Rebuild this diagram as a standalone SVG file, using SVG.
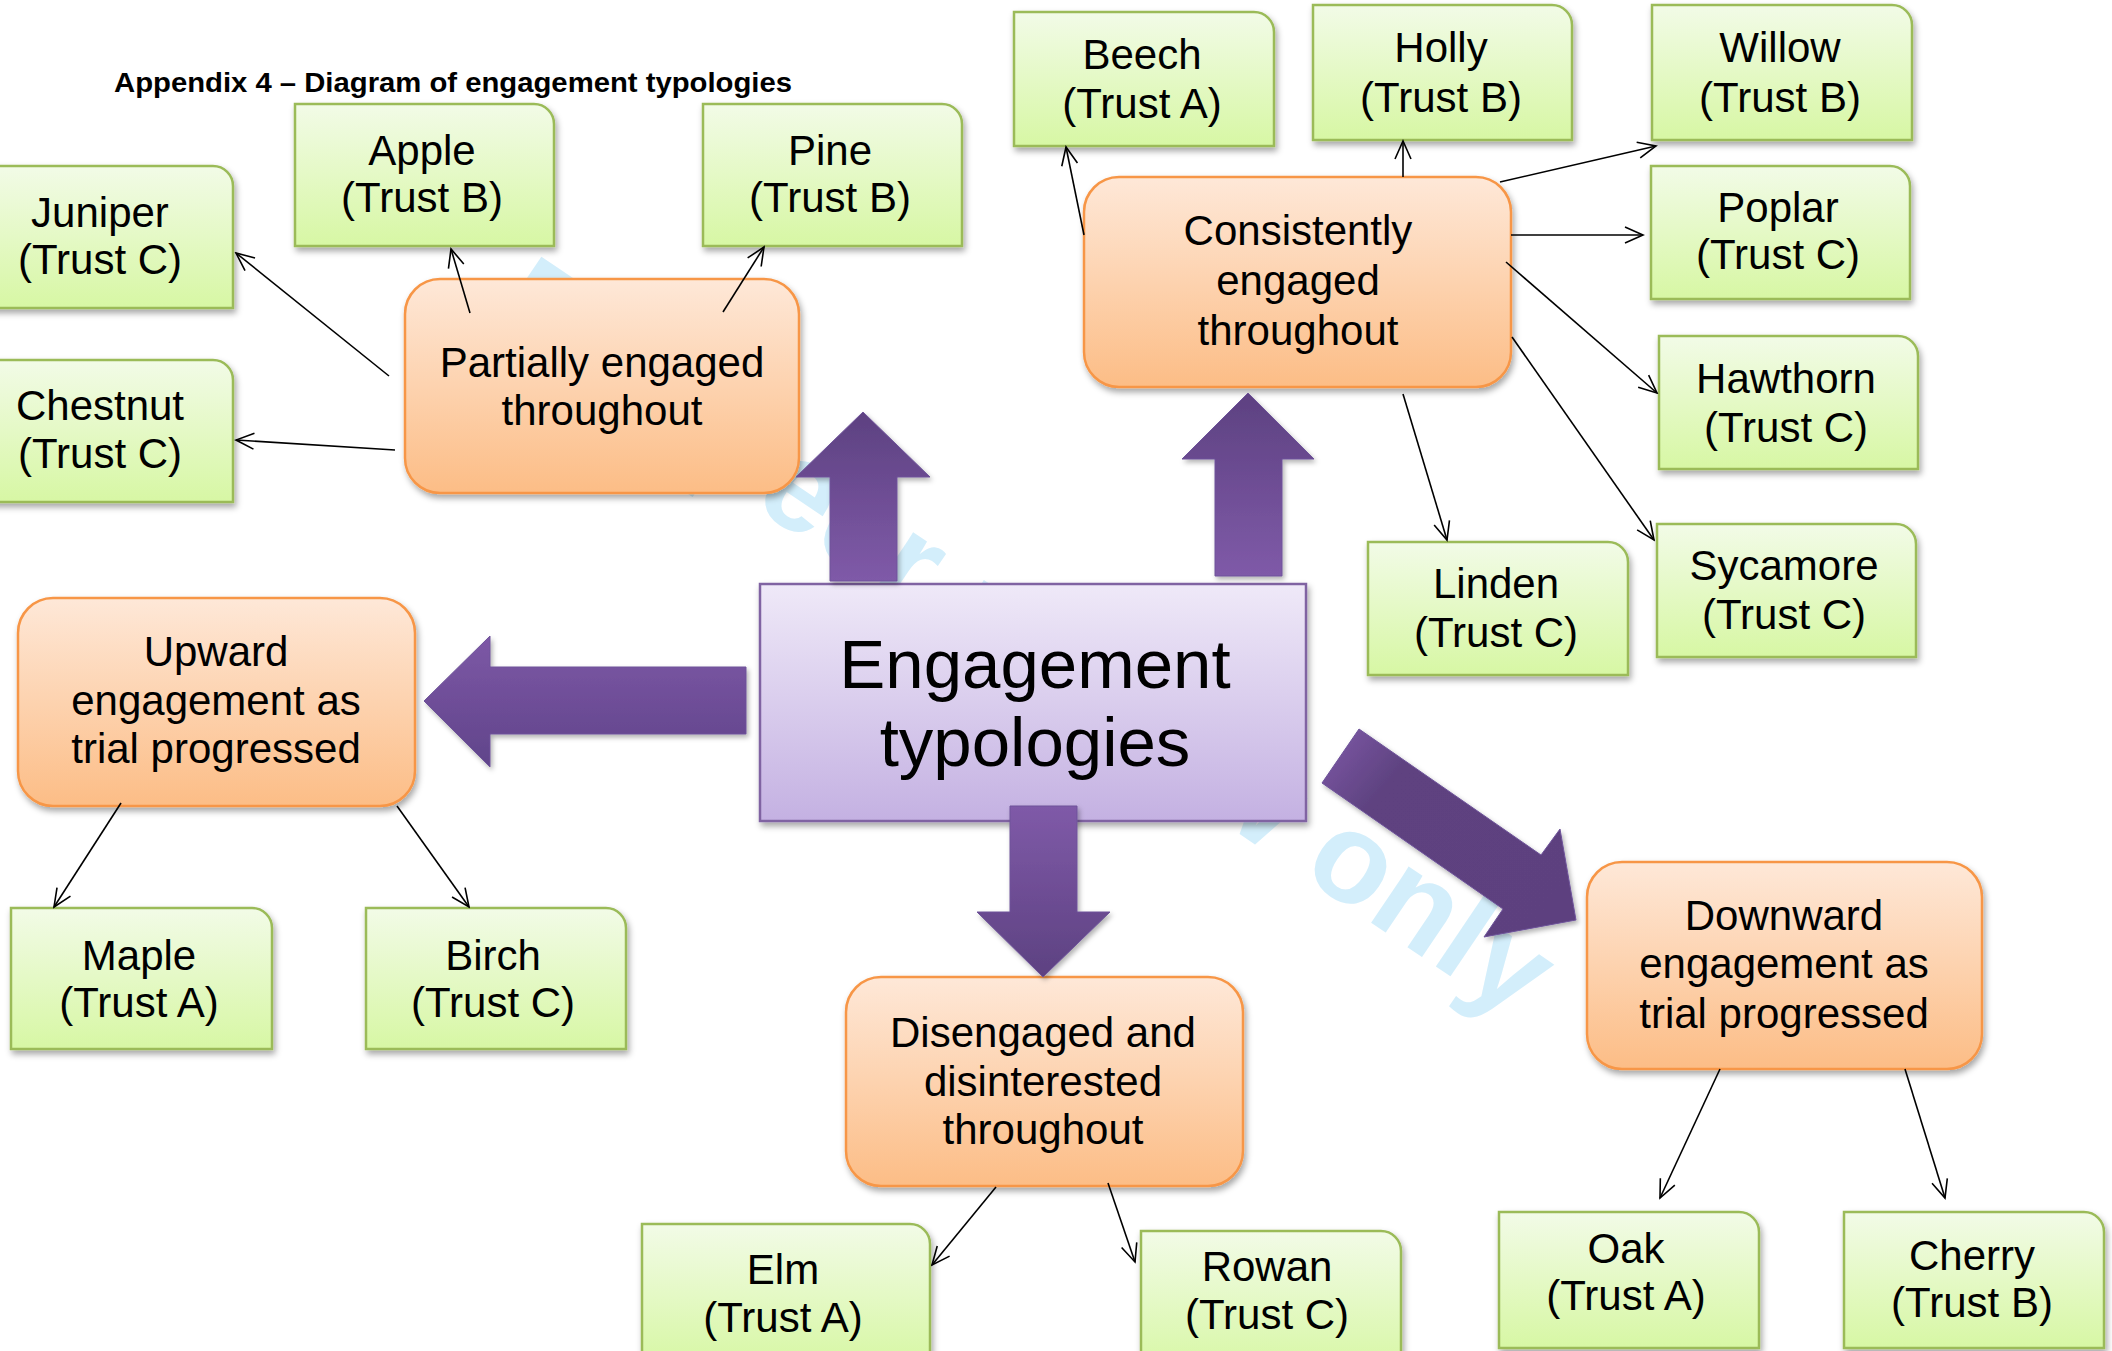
<svg xmlns="http://www.w3.org/2000/svg" width="2112" height="1351" viewBox="0 0 2112 1351">
<style>
.t{font-family:"Liberation Sans",Arial,sans-serif;font-size:42px;text-anchor:middle;fill:#000}
.big{font-size:69px}
.title{font-family:"Liberation Sans",Arial,sans-serif;font-size:27px;font-weight:bold;fill:#000}
.wm{font-family:"Liberation Sans",Arial,sans-serif;font-size:128px;font-weight:bold;fill:#d3eefb}
.green{fill:url(#gGreen);stroke:#9bbb59;stroke-width:2.5;filter:url(#sh)}
.orange{fill:url(#gOrange);stroke:#f79646;stroke-width:2.5;filter:url(#sh)}
.central{fill:url(#gCentral);stroke:#8064a2;stroke-width:2.5;filter:url(#sh)}
.con{fill:none;stroke:#000;stroke-width:1.6;marker-end:url(#arr)}
.blk{stroke:#6e539a;stroke-width:1;filter:url(#sh2)}
</style>
<defs>
<linearGradient id="gGreen" x1="0" y1="0" x2="0" y2="1"><stop offset="0" stop-color="#f2fbe7"/><stop offset="1" stop-color="#d7f7a4"/></linearGradient>
<linearGradient id="gOrange" x1="0" y1="0" x2="0" y2="1"><stop offset="0" stop-color="#fee8d8"/><stop offset="1" stop-color="#fcbd86"/></linearGradient>
<linearGradient id="gCentral" x1="0" y1="0" x2="0" y2="1"><stop offset="0" stop-color="#efe9f8"/><stop offset="1" stop-color="#c4b1e2"/></linearGradient>
<linearGradient id="gUp" x1="0" y1="1" x2="0" y2="0"><stop offset="0" stop-color="#7f5aa8"/><stop offset="1" stop-color="#5d4181"/></linearGradient>
<linearGradient id="gDown" x1="0" y1="0" x2="0" y2="1"><stop offset="0" stop-color="#7f5aa8"/><stop offset="1" stop-color="#5d4181"/></linearGradient>
<linearGradient id="gLeft" x1="0" y1="0" x2="0" y2="1"><stop offset="0" stop-color="#7d58a6"/><stop offset="1" stop-color="#60448a"/></linearGradient>
<linearGradient id="gDiag" x1="0" y1="0" x2="1" y2="0.7"><stop offset="0" stop-color="#7f5aa8"/><stop offset="0.3" stop-color="#5e4280"/><stop offset="1" stop-color="#5d417f"/></linearGradient>
<filter id="sh" x="-10%" y="-10%" width="125%" height="130%"><feDropShadow dx="2" dy="4" stdDeviation="3" flood-color="#000" flood-opacity="0.35"/></filter>
<filter id="sh2" x="-10%" y="-10%" width="125%" height="130%"><feDropShadow dx="2" dy="3" stdDeviation="2.5" flood-color="#000" flood-opacity="0.3"/></filter>
<marker id="arr" viewBox="-20 -10 22 20" refX="0" refY="0" markerWidth="22" markerHeight="20" markerUnits="userSpaceOnUse" orient="auto"><path d="M-18,-8 L0,0 L-18,8" fill="none" stroke="#000" stroke-width="1.6"/></marker>
</defs>
<rect width="2112" height="1351" fill="#fff"/>
<text class="wm" x="485" y="325" transform="rotate(34 485 325)">For peer review only</text>
<text class="title" x="114" y="92" textLength="678" lengthAdjust="spacingAndGlyphs">Appendix 4 – Diagram of engagement typologies</text>

<g id="nodes">
<g id="central"><rect class="central" x="760" y="584" width="546" height="237"/><text class="t big"><tspan x="1035" y="688">Engagement</tspan><tspan x="1035" y="766">typologies</tspan></text></g>

<g id="partially"><rect class="orange" x="405" y="279" width="394" height="214" rx="35"/><text class="t"><tspan x="602" y="377">Partially engaged</tspan><tspan x="602" y="425">throughout</tspan></text></g>
<g id="consistently"><rect class="orange" x="1084" y="177" width="427" height="210" rx="35"/><text class="t"><tspan x="1298" y="245">Consistently</tspan><tspan x="1298" y="295">engaged</tspan><tspan x="1298" y="345">throughout</tspan></text></g>
<g id="upward"><rect class="orange" x="18" y="598" width="397" height="208" rx="35"/><text class="t"><tspan x="216" y="666">Upward</tspan><tspan x="216" y="715">engagement as</tspan><tspan x="216" y="763">trial progressed</tspan></text></g>
<g id="disengaged"><rect class="orange" x="846" y="977" width="397" height="209" rx="35"/><text class="t"><tspan x="1043" y="1047">Disengaged and</tspan><tspan x="1043" y="1096">disinterested</tspan><tspan x="1043" y="1144">throughout</tspan></text></g>
<g id="downward"><rect class="orange" x="1587" y="862" width="395" height="207" rx="35"/><text class="t"><tspan x="1784" y="930">Downward</tspan><tspan x="1784" y="978">engagement as</tspan><tspan x="1784" y="1028">trial progressed</tspan></text></g>

<g id="juniper"><path class="green" d="M-33,166 H213 A20,20 0 0 1 233,186 V308 H-33 Z"/><text class="t"><tspan x="100" y="227">Juniper</tspan><tspan x="100" y="274">(Trust C)</tspan></text></g>
<g id="chestnut"><path class="green" d="M-33,360 H213 A20,20 0 0 1 233,380 V502 H-33 Z"/><text class="t"><tspan x="100" y="420">Chestnut</tspan><tspan x="100" y="468">(Trust C)</tspan></text></g>
<g id="apple"><path class="green" d="M295,104 H534 A20,20 0 0 1 554,124 V246 H295 Z"/><text class="t"><tspan x="422" y="165">Apple</tspan><tspan x="422" y="212">(Trust B)</tspan></text></g>
<g id="pine"><path class="green" d="M703,104 H942 A20,20 0 0 1 962,124 V246 H703 Z"/><text class="t"><tspan x="830" y="165">Pine</tspan><tspan x="830" y="212">(Trust B)</tspan></text></g>
<g id="beech"><path class="green" d="M1014,12 H1254 A20,20 0 0 1 1274,32 V146 H1014 Z"/><text class="t"><tspan x="1142" y="69">Beech</tspan><tspan x="1142" y="118">(Trust A)</tspan></text></g>
<g id="holly"><path class="green" d="M1313,5 H1552 A20,20 0 0 1 1572,25 V140 H1313 Z"/><text class="t"><tspan x="1441" y="62">Holly</tspan><tspan x="1441" y="112">(Trust B)</tspan></text></g>
<g id="willow"><path class="green" d="M1652,5 H1892 A20,20 0 0 1 1912,25 V140 H1652 Z"/><text class="t"><tspan x="1780" y="62">Willow</tspan><tspan x="1780" y="112">(Trust B)</tspan></text></g>
<g id="poplar"><path class="green" d="M1651,166 H1890 A20,20 0 0 1 1910,186 V299 H1651 Z"/><text class="t"><tspan x="1778" y="222">Poplar</tspan><tspan x="1778" y="269">(Trust C)</tspan></text></g>
<g id="hawthorn"><path class="green" d="M1659,336 H1898 A20,20 0 0 1 1918,356 V469 H1659 Z"/><text class="t"><tspan x="1786" y="393">Hawthorn</tspan><tspan x="1786" y="442">(Trust C)</tspan></text></g>
<g id="sycamore"><path class="green" d="M1657,524 H1896 A20,20 0 0 1 1916,544 V657 H1657 Z"/><text class="t"><tspan x="1784" y="580">Sycamore</tspan><tspan x="1784" y="629">(Trust C)</tspan></text></g>
<g id="linden"><path class="green" d="M1368,542 H1608 A20,20 0 0 1 1628,562 V675 H1368 Z"/><text class="t"><tspan x="1496" y="598">Linden</tspan><tspan x="1496" y="647">(Trust C)</tspan></text></g>
<g id="maple"><path class="green" d="M11,908 H252 A20,20 0 0 1 272,928 V1049 H11 Z"/><text class="t"><tspan x="139" y="970">Maple</tspan><tspan x="139" y="1017">(Trust A)</tspan></text></g>
<g id="birch"><path class="green" d="M366,908 H606 A20,20 0 0 1 626,928 V1049 H366 Z"/><text class="t"><tspan x="493" y="970">Birch</tspan><tspan x="493" y="1017">(Trust C)</tspan></text></g>
<g id="elm"><path class="green" d="M642,1224 H910 A20,20 0 0 1 930,1244 V1365 H642 Z"/><text class="t"><tspan x="783" y="1284">Elm</tspan><tspan x="783" y="1332">(Trust A)</tspan></text></g>
<g id="rowan"><path class="green" d="M1141,1231 H1381 A20,20 0 0 1 1401,1251 V1372 H1141 Z"/><text class="t"><tspan x="1267" y="1281">Rowan</tspan><tspan x="1267" y="1329">(Trust C)</tspan></text></g>
<g id="oak"><path class="green" d="M1499,1212 H1739 A20,20 0 0 1 1759,1232 V1348 H1499 Z"/><text class="t"><tspan x="1626" y="1263">Oak</tspan><tspan x="1626" y="1310">(Trust A)</tspan></text></g>
<g id="cherry"><path class="green" d="M1844,1212 H2084 A20,20 0 0 1 2104,1232 V1348 H1844 Z"/><text class="t"><tspan x="1972" y="1270">Cherry</tspan><tspan x="1972" y="1317">(Trust B)</tspan></text></g>
</g>

<g id="connectors">
<g id="block-arrows">
<polygon class="blk" fill="url(#gUp)" points="863,412 930,477 897,477 897,581 830,581 830,477 796,477"/>
<polygon class="blk" fill="url(#gUp)" points="1248,393 1314,459 1282,459 1282,576 1215,576 1215,459 1182,459"/>
<polygon class="blk" fill="url(#gLeft)" points="424,701 490,636 490,667 746,667 746,734 490,734 490,767"/>
<polygon class="blk" fill="url(#gDown)" points="1010,806 1077,806 1077,912 1110,912 1043,977 977,912 1010,912"/>
<polygon class="blk" fill="url(#gDiag)" points="1322,783 1359,729 1541,855 1560,829 1576,920 1484,937 1503,909"/>
</g>
<line class="con" x1="470" y1="313" x2="451" y2="249"/>
<line class="con" x1="723" y1="312" x2="764" y2="247"/>
<line class="con" x1="389" y1="376" x2="236" y2="253"/>
<line class="con" x1="395" y1="450" x2="236" y2="440"/>
<line class="con" x1="1084" y1="235" x2="1066" y2="147"/>
<line class="con" x1="1403" y1="177" x2="1403" y2="141"/>
<line class="con" x1="1500" y1="182" x2="1656" y2="146"/>
<line class="con" x1="1511" y1="235" x2="1643" y2="235"/>
<line class="con" x1="1506" y1="262" x2="1657" y2="393"/>
<line class="con" x1="1512" y1="337" x2="1654" y2="540"/>
<line class="con" x1="1403" y1="394" x2="1447" y2="540"/>
<line class="con" x1="121" y1="803" x2="54" y2="907"/>
<line class="con" x1="397" y1="806" x2="469" y2="907"/>
<line class="con" x1="996" y1="1187" x2="932" y2="1265"/>
<line class="con" x1="1108" y1="1183" x2="1135" y2="1262"/>
<line class="con" x1="1720" y1="1069" x2="1660" y2="1198"/>
<line class="con" x1="1905" y1="1069" x2="1945" y2="1198"/>
</g>
</svg>
